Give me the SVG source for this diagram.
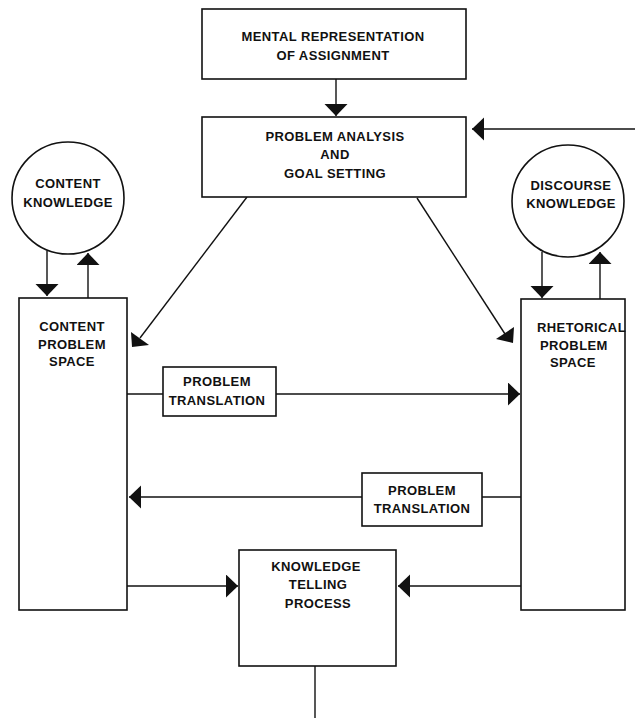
<svg xmlns="http://www.w3.org/2000/svg" width="635" height="718" viewBox="0 0 635 718">
<style>
.box{fill:#fff;stroke:#111;stroke-width:1.6}
.t{font-family:"Liberation Sans",Arial,sans-serif;font-weight:bold;font-size:13px;letter-spacing:0.4px;fill:#111;text-anchor:middle}
.tl{font-family:"Liberation Sans",Arial,sans-serif;font-weight:bold;font-size:13px;letter-spacing:0.4px;fill:#111}
.c{fill:none;stroke:#111;stroke-width:1.4}
.hd{fill:#111}
</style>
<defs>
<marker id="ah" markerUnits="userSpaceOnUse" markerWidth="13" markerHeight="24" refX="12" refY="11.5" orient="auto">
<path d="M0,0 L12,11.5 L0,23 z" fill="#111"/>
</marker>
</defs>
<rect width="635" height="718" fill="#fff"/>
<g id="connectors">
<line class="c" x1="336" y1="79" x2="336" y2="116" marker-end="url(#ah)"/>
<line class="c" x1="635" y1="129" x2="472" y2="129" marker-end="url(#ah)"/>
<line class="c" x1="247" y1="197" x2="140" y2="338"/>
<polygon class="hd" points="132,347 131,332 149,345"/>
<line class="c" x1="417" y1="198" x2="505" y2="334"/>
<polygon class="hd" points="496,339 514,327 513,343"/>
<line class="c" x1="47" y1="251" x2="47" y2="296" marker-end="url(#ah)"/>
<line class="c" x1="88" y1="298" x2="88" y2="253" marker-end="url(#ah)"/>
<line class="c" x1="542" y1="252" x2="542" y2="298" marker-end="url(#ah)"/>
<line class="c" x1="600" y1="299" x2="600" y2="252" marker-end="url(#ah)"/>
<line class="c" x1="127" y1="394" x2="163" y2="394"/>
<line class="c" x1="276" y1="394" x2="520" y2="394" marker-end="url(#ah)"/>
<line class="c" x1="521" y1="497" x2="482" y2="497"/>
<line class="c" x1="362" y1="497" x2="129" y2="497" marker-end="url(#ah)"/>
<line class="c" x1="127" y1="586" x2="238" y2="586" marker-end="url(#ah)"/>
<line class="c" x1="521" y1="586" x2="398" y2="586" marker-end="url(#ah)"/>
<line class="c" x1="315" y1="666" x2="315" y2="718"/>
</g>
<g id="mental-representation">
<rect class="box" x="202" y="9" width="264" height="70"/>
<text class="t" x="333" y="41">MENTAL REPRESENTATION</text>
<text class="t" x="333" y="60">OF ASSIGNMENT</text>
</g>
<g id="problem-analysis">
<rect class="box" x="202" y="117" width="264" height="80"/>
<text class="t" x="335" y="141">PROBLEM ANALYSIS</text>
<text class="t" x="335" y="159">AND</text>
<text class="t" x="335" y="178">GOAL SETTING</text>
</g>
<g id="content-knowledge">
<circle class="box" cx="68" cy="198" r="56"/>
<text class="t" x="68" y="188">CONTENT</text>
<text class="t" x="68" y="207">KNOWLEDGE</text>
</g>
<g id="discourse-knowledge">
<circle class="box" cx="568" cy="201" r="56"/>
<text class="t" x="571" y="190">DISCOURSE</text>
<text class="t" x="571" y="208">KNOWLEDGE</text>
</g>
<g id="content-problem-space">
<rect class="box" x="19" y="298" width="108" height="312"/>
<text class="t" x="72" y="331">CONTENT</text>
<text class="t" x="72" y="349">PROBLEM</text>
<text class="t" x="72" y="366">SPACE</text>
</g>
<g id="rhetorical-problem-space">
<rect class="box" x="521" y="299" width="104" height="311"/>
<text class="tl" x="537" y="332">RHETORICAL</text>
<text class="tl" x="540" y="350">PROBLEM</text>
<text class="tl" x="550" y="367">SPACE</text>
</g>
<g id="problem-translation-1">
<rect class="box" x="163" y="367" width="113" height="49"/>
<text class="t" x="217" y="386">PROBLEM</text>
<text class="t" x="217" y="405">TRANSLATION</text>
</g>
<g id="problem-translation-2">
<rect class="box" x="362" y="473" width="120" height="53"/>
<text class="t" x="422" y="495">PROBLEM</text>
<text class="t" x="422" y="513">TRANSLATION</text>
</g>
<g id="knowledge-telling">
<rect class="box" x="239" y="550" width="157" height="116"/>
<text class="t" x="316" y="571">KNOWLEDGE</text>
<text class="t" x="318" y="589">TELLING</text>
<text class="t" x="318" y="608">PROCESS</text>
</g>
</svg>
